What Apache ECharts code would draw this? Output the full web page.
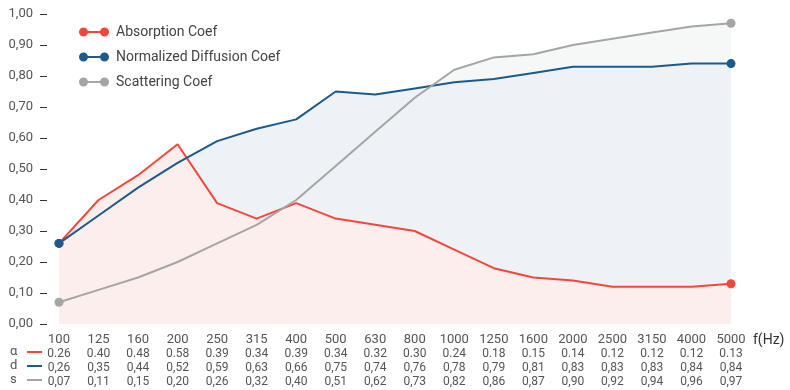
<!DOCTYPE html>
<html><head><meta charset="utf-8">
<script src="https://cdn.jsdelivr.net/npm/echarts@6/dist/echarts.min.js"></script>
<style>html,body{margin:0;padding:0;background:#fff}#c{width:790px;height:390px}</style>
</head><body><div id="c"></div>
<script>
var categories = ['100','125','160','200','250','315','400','500','630','800','1000','1250','1600','2000','2500','3150','4000','5000'];
var absorption = [0.26,0.40,0.48,0.58,0.39,0.34,0.39,0.34,0.32,0.30,0.24,0.18,0.15,0.14,0.12,0.12,0.12,0.13];
var diffusion  = [0.26,0.35,0.44,0.52,0.59,0.63,0.66,0.75,0.74,0.76,0.78,0.79,0.81,0.83,0.83,0.83,0.84,0.84];
var scattering = [0.07,0.11,0.15,0.20,0.26,0.32,0.40,0.51,0.62,0.73,0.82,0.86,0.87,0.90,0.92,0.94,0.96,0.97];
var yTicks = [0,0.1,0.2,0.3,0.4,0.5,0.6,0.7,0.8,0.9,1.0];

var RED='#f4473a', BLUE='#1c5a8c', GRAY='#a5a5a5';
var FONT='Roboto';
var chart = echarts.init(document.getElementById('c'), null, {renderer:'canvas'});
function endDots(arr){var n=arr.length;return arr.map(function(v,i){return {value:v,symbolSize:(i===0||i===n-1)?9:0};});}
function lineSeries(name,arr,color){
  return {name:name,type:'line',data:endDots(arr),symbol:'circle',showSymbol:true,z:5,
    itemStyle:{color:color},lineStyle:{color:color,width:2},emphasis:{disabled:true},animation:false};
}
function areaSeries(name,arr,fill,z){
  return {name:name,type:'line',data:arr,symbol:'none',z:z,lineStyle:{width:0},
    areaStyle:{color:fill,opacity:1},emphasis:{disabled:true},silent:true,animation:false};
}
var icon='path://M0,4.5A4.5,4.5 0 1,1 9,4.5A4.5,4.5 0 1,1 0,4.5ZM21,4.5A4.5,4.5 0 1,1 30,4.5A4.5,4.5 0 1,1 21,4.5ZM4,3.5L26,3.5L26,5.5L4,5.5Z';
function rowAxis(arr,offset,comma){
  return {type:'category',gridIndex:0,position:'bottom',offset:offset,boundaryGap:false,data:categories,
    axisLine:{show:false},axisTick:{show:false},splitLine:{show:false},
    axisLabel:{interval:0,margin:10,fontFamily:FONT,fontSize:12,color:'#555',
      formatter:function(v,i){var s=arr[i].toFixed(2);return comma?s.replace('.',','):s;}}};
}
var option = {
  animation:false,
  grid:{left:59,right:59,top:14,bottom:66},
  legend:{orient:'vertical',left:74,top:20,itemWidth:30,itemHeight:9,itemGap:11,
    icon:icon,textStyle:{fontFamily:FONT,fontSize:14,color:'#444',padding:[0,0,0,2]},
    data:[{name:'Absorption Coef',itemStyle:{color:RED}},{name:'Normalized Diffusion Coef',itemStyle:{color:BLUE}},{name:'Scattering Coef',itemStyle:{color:GRAY}}],
    selectedMode:false},
  xAxis:[
    {type:'category',boundaryGap:false,data:categories,axisLine:{show:false},axisTick:{show:false},splitLine:{show:false},
     axisLabel:{interval:0,margin:9,fontFamily:FONT,fontSize:13,color:'#555'},
     name:'f(Hz)',nameLocation:'end',nameGap:22,
     nameTextStyle:{fontFamily:FONT,fontSize:14,color:'#333',align:'left',verticalAlign:'top',padding:[9,0,0,0]}},
    rowAxis(absorption,14,false),
    rowAxis(diffusion,28,true),
    rowAxis(scattering,42,true)
  ],
  yAxis:{type:'value',min:yTicks[0],max:yTicks[yTicks.length-1],interval:0.1,offset:12,
    axisLine:{show:false},axisTick:{show:true,length:7,lineStyle:{color:'#333'}},splitLine:{show:false},
    axisLabel:{margin:14,fontFamily:FONT,fontSize:13,color:'#555',formatter:function(v){return v.toFixed(2).replace('.',',');}}},
  series:[
    areaSeries('s-area',scattering,'#f6f7f7',1),
    areaSeries('d-area',diffusion,'#eef1f6',2),
    areaSeries('a-area',absorption,'#fdeeee',3),
    lineSeries('Absorption Coef',absorption,RED),
    lineSeries('Normalized Diffusion Coef',diffusion,BLUE),
    lineSeries('Scattering Coef',scattering,GRAY)
  ],
  graphic:[
    {type:'text',left:10,top:345,style:{text:'α',font:'13px '+FONT,fill:'#555'}},
    {type:'text',left:10,top:359,style:{text:'d',font:'13px '+FONT,fill:'#555'}},
    {type:'text',left:10,top:373,style:{text:'s',font:'13px '+FONT,fill:'#555'}},
    {type:'line',shape:{x1:27,y1:352,x2:42,y2:352},style:{stroke:RED,lineWidth:2}},
    {type:'line',shape:{x1:27,y1:366,x2:42,y2:366},style:{stroke:BLUE,lineWidth:2}},
    {type:'line',shape:{x1:27,y1:380,x2:42,y2:380},style:{stroke:GRAY,lineWidth:2}}
  ]
};
chart.setOption(option);
</script></body></html>
